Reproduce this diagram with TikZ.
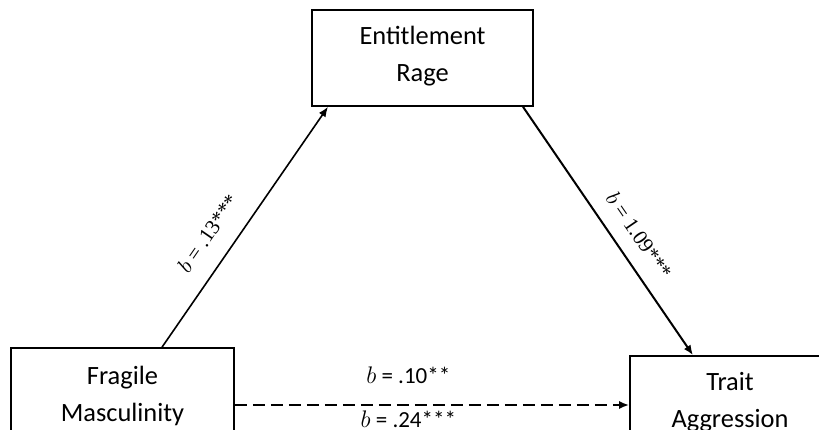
\documentclass[tikz,border=0pt]{standalone}
\usepackage{fontspec}
\setmainfont{Carlito}
\newfontfamily\coeffont{Liberation Serif}
\usetikzlibrary{arrows.meta}

\tikzset{
  varbox/.style={draw, thick, align=center, font=\fontsize{13.2}{18.5}\selectfont},
  coef/.style={font=\coeffont\fontsize{10.5}{12}\selectfont},
  midcoef/.style={font=\fontsize{11.5}{13}\selectfont}
}

\begin{document}
\begin{tikzpicture}[x=0.5pt, y=-0.5pt, >={Latex[length=5pt,width=4pt]}]
        \clip (0,0) rectangle (819,429);
        % the three variables
        \node[varbox, minimum width=110.5pt, minimum height=48pt] (rage) at (422.5,58) {Entitlement\\Rage\vspace{1.5pt}};
        \node[varbox, minimum width=111.5pt, minimum height=50pt] (frag) at (122.5,398) {Fragile\\Masculinity\vspace{2pt}};
        \node[varbox, minimum width=100pt, minimum height=49pt] (trait) at (730,405) {Trait\\Aggression\vspace{3pt}};
        % paths
        \draw[black, thick, ->] ([xshift=19.75pt]frag.north) -- ([xshift=-47.25pt]rage.south) node[coef, pos=0.41, sloped, above=6pt] {$b$ = .13***};
        \draw[black, line width=1pt, ->] ([xshift=50.25pt]rage.south) -- ([xshift=-18.5pt]trait.north) node[coef, pos=0.57, sloped, above=4pt] {$b$ = 1.09***};
        \draw[black, line width=1pt, dash pattern=on 6pt off 3pt, ->] ([yshift=-3.5pt]frag.east) -- (trait.west)
            node[midcoef, pos=0.44, above=7pt] {$b$ = .10**}
            node[midcoef, pos=0.44, below=-1pt] {$b$ = .24***};
\end{tikzpicture}
\end{document}
